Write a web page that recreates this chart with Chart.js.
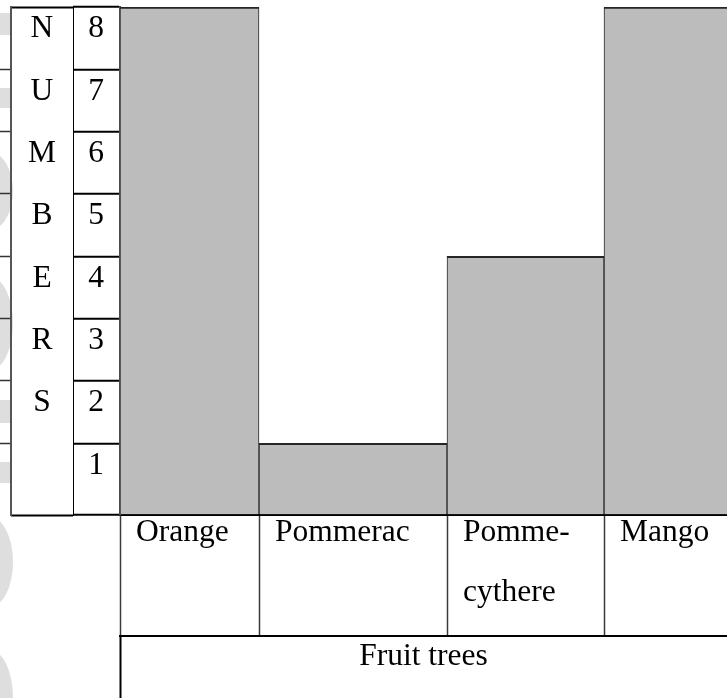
<!DOCTYPE html>
<html>
<head>
<meta charset="utf-8">
<title>Fruit trees</title>
<script src="https://cdn.jsdelivr.net/npm/chart.js@4.4.0/dist/chart.umd.min.js"></script>
<style>
  html, body { margin: 0; padding: 0; background: #fff; }
  canvas { display: block; }
</style>
</head>
<body>
<canvas id="fruit-chart" width="727" height="698"></canvas>
<script>
// Number of fruit trees of each kind
const fruits = ['Orange', 'Pommerac', 'Pomme-cythere', 'Mango'];
const treeCounts = [8, 1, 4, 8];
const countTicks = [1, 2, 3, 4, 5, 6, 7, 8];
const yTitle = 'NUMBERS';
const xTitle = 'Fruit trees';

// table layout: column widths (table units) and the slightly deeper bottom row
const colWidths = [139, 188, 157, 123];
const yMin = -0.15;
const yMax = 8;

const colStarts = colWidths.map((w, i) => colWidths.slice(0, i).reduce((a, b) => a + b, 0));
const tableWidth = colWidths.reduce((a, b) => a + b, 0);

const serif = '"Liberation Serif", "Times New Roman", serif';
const cellFont = { family: serif, size: 31.5 };

// keep each axis at a fixed cell size, ignoring label overhang
const fixedSize = (prop, px) => scale => {
    scale[prop] = px;
    scale.paddingTop = scale.paddingBottom = scale.paddingLeft = scale.paddingRight = 0;
};
const rowTicks = scale => { scale.ticks = [yMin, ...countTicks].map(v => ({ value: v })); };
const isEdge = v => v === yMin || v === yMax;

// "Pomme-cythere" wraps after the hyphen
const splitName = name => {
    if (!name) return '';
    const cut = name.indexOf('-');
    return cut > 0 ? [name.slice(0, cut + 1), name.slice(cut + 1)] : name;
};

// one dataset per column so every bar can span its own column width;
// the last column runs off the page, so it gets no right edge
const datasets = fruits.map((name, i) => ({
    label: name,
    data: [{ x: colStarts[i] + colWidths[i] / 2, y: treeCounts[i] }],
    backgroundColor: '#bcbcbc',
    borderColor: '#262626',
    borderWidth: { top: 2, left: 1, right: i === fruits.length - 1 ? 0 : 1, bottom: 0 },
    borderSkipped: false,
    base: yMin,
    grouped: false
}));

// bar widths follow the x scale once the layout is known
const columnWidths = {
    id: 'columnWidths',
    afterLayout(chart) {
        const x = chart.scales.x;
        chart.data.datasets.forEach((ds, i) => {
            ds.barThickness = x.getPixelForValue(colStarts[i] + colWidths[i]) - x.getPixelForValue(colStarts[i]);
        });
    }
};

// faint grey marks showing through along the left margin
const marginMarks = {
    id: 'marginMarks',
    beforeDraw(chart) {
        const ctx = chart.ctx;
        ctx.save();
        ctx.fillStyle = '#dedede';
        [[13, 35], [88, 108], [400, 423], [462, 483]].forEach(([a, b]) => ctx.fillRect(0, a, 11, b - a));
        [[152, 230], [277, 370], [517, 607], [650, 746]].forEach(([a, b]) => {
            ctx.beginPath();
            ctx.ellipse(-10, (a + b) / 2, 23, (b - a) / 2, 0, 0, Math.PI * 2);
            ctx.fill();
        });
        ctx.restore();
    }
};

new Chart(document.getElementById('fruit-chart'), {
    type: 'bar',
    data: { datasets },
    plugins: [columnWidths, marginMarks],
    options: {
        responsive: false,
        animation: false,
        layout: { padding: { top: 7, left: 0, right: 0, bottom: 0 } },
        plugins: { legend: { display: false }, tooltip: { enabled: false } },
        scales: {
            x: {
                type: 'linear', position: 'bottom', min: 0, max: tableWidth, weight: 0, offset: false,
                afterBuildTicks: s => { s.ticks = colStarts.map(v => ({ value: v })); },
                afterFit: fixedSize('height', 121),
                border: { display: true, color: '#000', width: 2 },
                grid: { offset: false, drawOnChartArea: false, tickLength: 121, tickColor: '#3a3a3a', tickWidth: 1.5 },
                ticks: {
                    autoSkip: false, maxRotation: 0, align: 'start', labelOffset: 16, padding: -133.5,
                    color: '#000', font: { ...cellFont, lineHeight: 1.9 },
                    callback: (value, i) => splitName(fruits[i])
                }
            },
            xTitle: {
                type: 'linear', position: 'bottom', min: 0, max: tableWidth, weight: 1, offset: false,
                afterBuildTicks: s => { s.ticks = [{ value: 0 }]; },
                afterFit: fixedSize('height', 62),
                border: { display: true, color: '#000', width: 2 },
                grid: { offset: false, drawOnChartArea: false, tickLength: 62, tickColor: '#000', tickWidth: 2 },
                ticks: { display: false },
                title: { display: true, text: xTitle, color: '#000', font: cellFont, padding: { top: 0, bottom: 22 } }
            },
            y: {
                type: 'linear', position: 'left', min: yMin, max: yMax, weight: 0, z: 1,
                afterBuildTicks: rowTicks,
                afterFit: fixedSize('width', 47),
                border: { color: '#4a4a4a', width: 2 },
                grid: {
                    color: ctx => isEdge(ctx.tick.value) ? 'rgba(0,0,0,0)' : 'rgba(255,255,255,0.14)',
                    lineWidth: 1.5,
                    tickLength: 47, tickColor: '#000', tickWidth: 2
                },
                ticks: {
                    color: '#000', font: cellFont, crossAlign: 'center', padding: -31, labelOffset: 22,
                    callback: v => countTicks.includes(v) ? String(v) : ''
                }
            },
            yRows: {
                type: 'linear', position: 'left', min: yMin, max: yMax, weight: 1,
                afterBuildTicks: rowTicks,
                afterFit: fixedSize('width', 62),
                border: { color: '#000', width: 1 },
                grid: {
                    drawOnChartArea: false, tickLength: 62, tickWidth: 2,
                    tickColor: ctx => isEdge(ctx.tick.value) ? '#000' : 'rgba(0,0,0,0)'
                },
                ticks: {
                    color: '#000', font: cellFont, crossAlign: 'center', padding: -45, labelOffset: 22,
                    callback: v => yTitle[yMax - v] || ''
                }
            },
            yEdge: {
                type: 'linear', position: 'left', min: yMin, max: yMax, weight: 2,
                afterBuildTicks: s => { s.ticks = countTicks.filter(v => v < yMax).map(v => ({ value: v })); },
                afterFit: fixedSize('width', 11),
                border: { color: '#555', width: 2 },
                grid: { drawOnChartArea: false, tickLength: 11, tickColor: '#333', tickWidth: 1.5 },
                ticks: { display: false }
            }
        }
    }
});
</script>
</body>
</html>
